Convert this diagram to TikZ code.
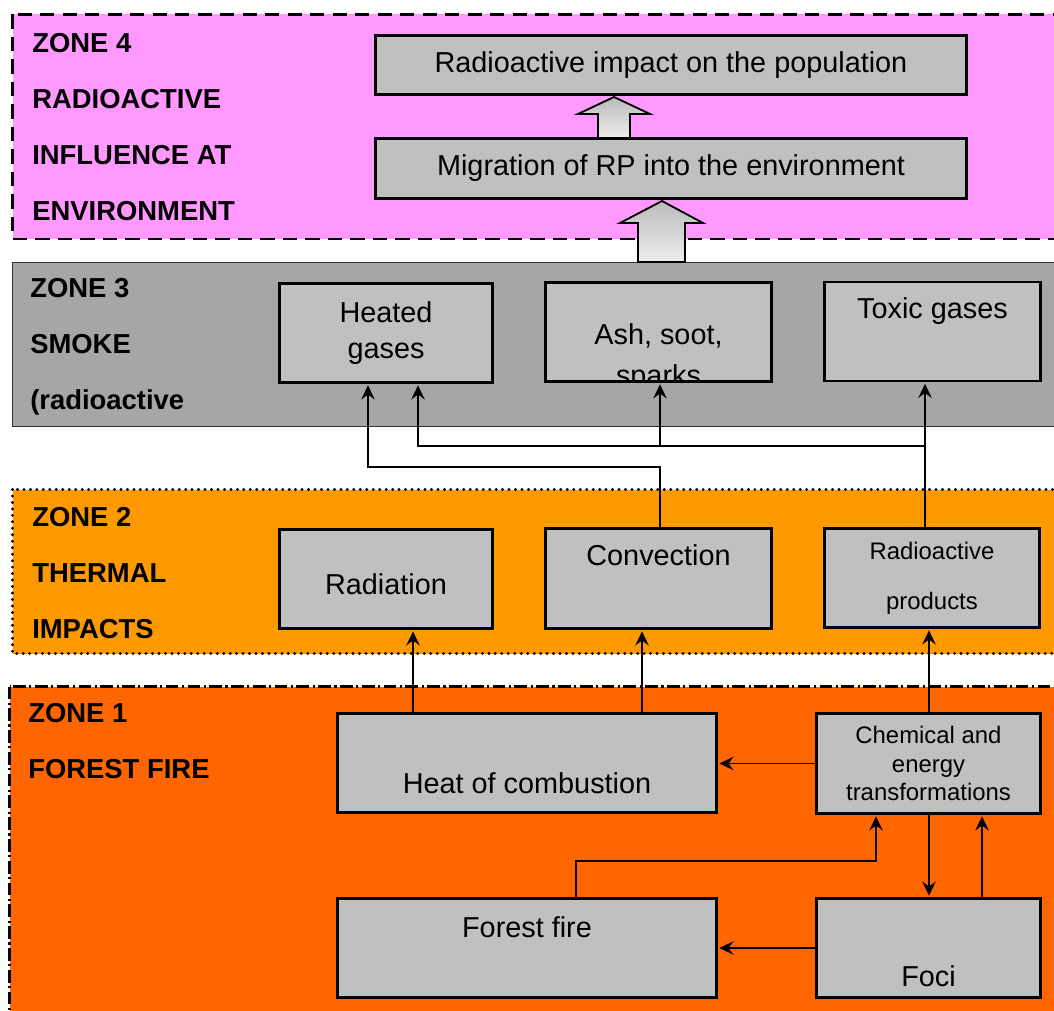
\documentclass[tikz,border=0pt]{standalone}
\usepackage{fontspec}
\setmainfont{Liberation Sans}
\usepackage{tikz}
\usetikzlibrary{arrows.meta}
\definecolor{zonefour}{HTML}{FF99FF}
\definecolor{zonethree}{HTML}{A6A6A6}
\definecolor{zonetwo}{HTML}{FF9900}
\definecolor{zoneone}{HTML}{FF6600}
\definecolor{boxgray}{HTML}{C0C0C0}
\definecolor{arrtop}{HTML}{BBBBBB}
\definecolor{arrbot}{HTML}{EDEDED}

\begin{document}
\begin{tikzpicture}[x=0.025cm,y=-0.025cm,
    box/.style={draw,line width=2pt,fill=boxgray,inner sep=0pt,minimum height=2.475cm,
      font=\fontsize{20.5}{25}\selectfont},
    smallbox/.style={box,font=\fontsize{17}{20.3}\selectfont},
    txtpos/.style 2 args={text height=#1,text depth=#2},
    zonelabel/.style={anchor=north west,inner sep=0pt,align=left,
      font=\fontsize{19.5}{39.8}\selectfont\bfseries},
    zone/.style={fill=#1},
    conn/.style={line width=1.4pt,shorten >=1pt,-{Stealth[length=10pt,width=9.5pt,inset=3.5pt]}},
    block/.style={draw,line width=1.3pt,top color=arrtop,bottom color=arrbot}]

  \useasboundingbox (0,0) rectangle (1054,1011);

  \draw[zone=zonefour,line width=1.6pt,dash pattern=on 10pt off 6pt] (12.5,14.5) rectangle (1080,239);
  \draw[zone=zonethree,line width=0.8pt,draw=black!80] (12.5,262.5) rectangle (1080,426.5);
  \draw[zone=zonetwo,line width=2.3pt,line cap=round,dash pattern=on 0pt off 4.6pt] (12.5,489.5) rectangle (1080,653.5);
  \draw[zone=zoneone,line width=1.6pt,dash pattern=on 9pt off 2.5pt on 1.5pt off 2.5pt] (9.5,686.5) rectangle (1080,1030);

  \node[zonelabel] (z4) at (32,33)  {ZONE 4\\RADIOACTIVE\\INFLUENCE AT\\ENVIRONMENT};
  \node[zonelabel] (z3) at (30,278) {ZONE 3\\SMOKE\\(radioactive};
  \node[zonelabel] (z2) at (32,507) {ZONE 2\\THERMAL\\IMPACTS};
  \node[zonelabel] (z1) at (28,703) {ZONE 1\\FOREST FIRE};

  \draw[block] (598,138) -- (598,114) -- (578,114) -- (614,97) -- (650,114) -- (630,114) -- (630,138) -- cycle;
  \draw[block] (638,262) -- (638,223) -- (620,223) -- (662,201) -- (703,223) -- (685,223) -- (685,262) -- cycle;

  \node[box,minimum width=14.775cm,minimum height=1.475cm] (pop) at (671,65) {Radioactive impact on the population};
  \node[box,minimum width=14.775cm,minimum height=1.5cm] (mig) at (671,168.5) {Migration of RP into the environment};

  \node[box,align=center,minimum width=5.325cm] (heated) at (386,333) {Heated\\gases};
  \node[box,minimum width=5.65cm,
    path picture={\node[draw=none,fill=none,align=center,font=\fontsize{20.5}{29}\selectfont]
      at ([yshift=-0.63cm]path picture bounding box.center) {Ash, soot,\\sparks};}] (ash) at (658.5,332) {};
  \node[box,txtpos={0.9125cm}{1.5375cm},minimum width=5.4cm] (toxic) at (932.5,331.5) {Toxic gases};

  \node[box,txtpos={1.625cm}{0.85cm},minimum width=5.325cm] (rad) at (386,579) {Radiation};
  \node[box,txtpos={0.9375cm}{1.5625cm},minimum width=5.65cm,minimum height=2.5cm] (conv) at (658.5,578.5) {Convection};
  \node[box,align=center,font=\fontsize{17}{35.6}\selectfont,minimum width=5.375cm] (rp) at (932,578) {Radioactive\\products};

  \node[box,txtpos={1.9875cm}{0.4875cm},minimum width=9.475cm] (heat) at (527,763) {Heat of combustion};
  \node[smallbox,align=center,minimum width=5.6cm,minimum height=2.5cm] (chem) at (928.5,763.5) {Chemical and\\energy\\transformations};
  \node[box,txtpos={0.9625cm}{1.5125cm},minimum width=9.475cm] (forest) at (527,948) {Forest fire};
  \node[box,txtpos={2.1875cm}{0.2875cm},minimum width=5.6cm] (foci) at (928.5,948) {Foci};

  \coordinate (xrad) at (413,0);
  \coordinate (xconv) at (642,0);
  \coordinate (xchem) at (929,0);
  \coordinate (xfoci) at (982,0);
  \coordinate (xfire) at (576,0);
  \coordinate (xin) at (876,0);
  \coordinate (xash) at (660,0);
  \coordinate (xhotA) at (368,0);
  \coordinate (xhotB) at (418,0);
  \coordinate (xtox) at (925,0);
  \coordinate (yloop) at (0,467);
  \coordinate (ybus) at (0,446);
  \coordinate (yfire) at (0,861);

  \draw[conn] (heat.north -| xrad) -- (rad.south -| xrad);
  \draw[conn] (heat.north -| xconv) -- (conv.south -| xconv);
  \draw[conn] (chem.north -| xchem) -- (rp.south -| xchem);
  \draw[conn] (chem.west) -- (heat.east |- chem.west);
  \draw[conn] (chem.south -| xchem) -- (foci.north -| xchem);
  \draw[conn] (foci.north -| xfoci) -- (chem.south -| xfoci);
  \draw[conn] (foci.west) -- (forest.east |- foci.west);
  \draw[conn] (forest.north -| xfire) |- (yfire -| xin) -- (chem.south -| xin);
  \draw[conn] (conv.north -| xash) |- (yloop -| xhotA) -- (heated.south -| xhotA);
  \draw[conn] (rp.north -| xtox) -- (toxic.south -| xtox);
  \draw[conn] (ybus -| xtox) -| (heated.south -| xhotB);
  \draw[conn] (ybus -| xash) -- (ash.south -| xash);
\end{tikzpicture}
\end{document}
